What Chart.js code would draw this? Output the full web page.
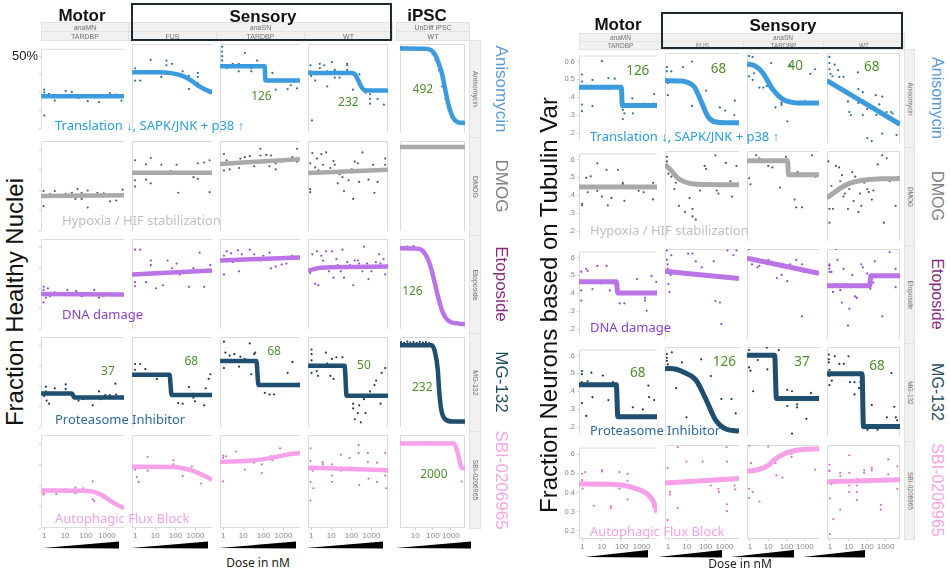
<!DOCTYPE html>
<html>
<head>
<meta charset="utf-8">
<script src="https://cdn.jsdelivr.net/npm/chart.js@4.4.1/dist/chart.umd.min.js"></script>
<style>
  body { margin: 0; width: 950px; height: 573px; background: #fff; position: relative; overflow: hidden;
         font-family: 'Liberation Sans', Arial, sans-serif; }
  canvas { position: absolute; }
  .t { position: absolute; white-space: nowrap; line-height: 1; }
  .strip { position: absolute; background: #f1f1f1; border: 1px solid #e2e2e2; box-sizing: border-box;
           color: #707070; font-size: 7px; display: flex; align-items: center; justify-content: center; }
  .side { position: absolute; background: #f1f1f1; border: 1px solid #e2e2e2; box-sizing: border-box; }
  .side span { position: absolute; left: 50%; top: 50%; transform: translate(-50%, -50%) rotate(90deg);
               color: #707070; font-size: 7px; white-space: nowrap; }
  .box { position: absolute; border: 2px solid #1c2b33; box-sizing: border-box; }
  .mech { position: absolute; white-space: nowrap; font-family: 'Noto Sans', sans-serif; font-size: 13px;
          transform: translateY(-50%); }
</style>
</head>
<body>
<script>
// ---- data ----
const drugs = ['Anisomycin', 'DMOG', 'Etoposide', 'MG-132', 'SBI-0206965'];
const mechanisms = ['Translation \u2193, SAPK/JNK + p38 \u2191', 'Hypoxia / HIF stabilization', 'DNA damage',
                    'Proteasome Inhibitor', 'Autophagic Flux Block'];
const leftLines = ['anaMN', 'anaSN', 'UnDiff iPSC'];
const leftGenotypes = ['TARDBP', 'FUS', 'TARDBP', 'WT', 'WT'];
const rightLines = ['anaMN', 'anaSN'];
const rightGenotypes = ['TARDBP', 'FUS', 'TARDBP', 'WT'];
const xTicks = [1, 10, 100, 1000];
const leftYTicks = [0.1, 0.2, 0.3, 0.4, 0.5];
const rightYTicks = [0.2, 0.3, 0.4, 0.5, 0.6];
const rightYLabels = [
  ['.2', '.3', '.4', '0.5', '0.6'],
  ['.2', '.3', '.4', '.5', '.6'],
  ['.2', '.3', '.4', '.5', '.6'],
  ['.2', '.3', '.4', '.5', '.6'],
  ['0.2', '0.3', '0.4', '0.5', '.6']
];

// left grid: fraction healthy nuclei, [dose nM, fraction]; columns: MN TARDBP, SN FUS, SN TARDBP, SN WT, iPSC WT
const leftFitAniso = [
  [[0.71, .277], [6600, .277]],
  [[0.71, .40], [15, .40], [60, .396], [230, .382], [600, .36], [1300, .336], [3000, .315], [6600, .30]],
  [[0.71, .43], [117, .43], [125, .36], [6600, .36]],
  [[0.71, .397], [100, .397], [150, .39], [220, .36], [330, .325], [510, .31], [6600, .31]],
  [[1.4, .518], [32, .517], [79, .51], [126, .49], [200, .45], [316, .395], [500, .31], [794, .23], [1260, .18], [2000, .158], [3160, .151], [6300, .15]]
];
const leftDotsAniso = [
  [[1, .314], [1, .299], [1.7, .291], [3.2, .253], [10.7, .306], [15, .283], [21, .301], [44, .268], [100, .276], [120, .25], [250, .271], [420, .245], [1400, .295], [2800, .286], [5000, .283], [5000, .253], [1, .17]],
  [[1, .42], [1, .359], [1.8, .359], [5.9, .462], [20, .397], [20, .377], [36, .458], [36, .435], [69, .442], [230, .405], [470, .382], [470, .317], [1300, .397], [1300, .377], [1300, .347], [2700, .314], [6300, .299], [6300, .31]],
  [[.9, .526], [.9, .503], [.9, .48], [.9, .458], [1.5, .435], [1.5, .42], [3, .442], [3, .427], [6, .442], [6, .405], [12, .495], [12, .427], [25, .42], [25, .405], [49, .458], [100, .435], [280, .397], [410, .314], [1600, .317], [2300, .336], [4700, .321], [4700, .359]],
  [[.93, .435], [.93, .405], [1, .382], [1.6, .359], [2.7, .442], [2.7, .42], [2.7, .397], [4.5, .435], [6.3, .405], [6.3, .33], [10.7, .45], [15, .412], [15, .374], [26, .397], [26, .374], [62, .442], [62, .435], [62, .412], [120, .397], [120, .314], [250, .39], [500, .299], [850, .268], [850, .245], [850, .291], [2000, .268], [2000, .306], [4100, .24], [1.1, .162]],
  [[1.6, .525], [2.2, .52], [3.3, .525], [5, .52], [7.6, .518], [11, .52], [17, .52], [26, .515], [40, .515], [60, .51], [95, .49], [140, .46], [220, .41], [330, .33], [500, .27], [760, .21], [1100, .18], [1700, .16], [2600, .15], [4000, .148], [5200, .15]]
];
const leftFitDmog = [
  [[0.71, .271], [6600, .275]],
  [[0.71, .385], [6600, .385]],
  [[0.71, .428], [6600, .451]],
  [[0.71, .383], [6600, .40]],
  [[1.4, .511], [6300, .511]]
];
const leftDotsDmog = [
  [[.93, .295], [.93, .222], [1.2, .272], [1.9, .28], [3.2, .295], [6.3, .272], [10.7, .28], [21, .287], [31, .257], [39, .305], [62, .257], [62, .287], [120, .215], [120, .298], [210, .275], [350, .287], [700, .284], [1400, .245], [2800, .249], [5700, .302]],
  [[1, .446], [1, .348], [1, .317], [1.8, .385], [3.5, .426], [3.5, .351], [6, .457], [6, .333], [20, .424], [29, .385], [58, .393], [115, .424], [138, .287], [470, .381], [790, .363], [1300, .431], [1300, .355], [2700, .435], [5000, .29], [5000, .446]],
  [[1.1, .476], [1.1, .396], [1.5, .446], [2.1, .401], [3, .426], [6.2, .408], [7.2, .454], [12, .461], [21, .466], [35, .416], [71, .502], [71, .469], [141, .472], [200, .416], [240, .469], [410, .401], [410, .431], [810, .439], [1600, .451], [2750, .461], [4700, .502], [4700, .439]],
  [[.9, .431], [.9, .305], [.9, .29], [1.15, .481], [1.6, .411], [1.95, .454], [2.3, .396], [3.2, .476], [3.9, .424], [5.5, .484], [6.5, .393], [9, .408], [13, .442], [15, .424], [21, .333], [26, .378], [36, .363], [43, .295], [62, .393], [72, .348], [105, .401], [123, .257], [148, .439], [210, .431], [245, .34], [355, .484], [500, .393], [710, .351], [1200, .424], [1400, .287], [2000, .34], [2800, .393], [4800, .454], [4800, .424]],
  [[1.6, .513], [2.4, .509], [3.6, .514], [5.3, .51], [8, .512], [12, .508], [18, .514], [27, .511], [40, .516], [60, .509], [90, .513], [135, .51], [200, .512], [300, .509], [450, .513], [680, .51], [1000, .512], [1500, .509], [2300, .513], [3500, .51], [5200, .512]]
];
const leftFitEtop = [
  [[0.71, .271], [6600, .268]],
  [[0.71, .367], [6600, .386]],
  [[0.71, .435], [6600, .449]],
  [[0.71, .385], [1.5, .394], [3, .399], [10, .402], [6600, .405]],
  [[1.4, .495], [10, .494], [22, .488], [59, .43], [105, .354], [186, .263], [331, .188], [708, .142], [3300, .126], [6300, .124]]
];
const leftDotsEtop = [
  [[.93, .306], [.93, .291], [.93, .23], [1.2, .253], [1.5, .299], [1.9, .26], [3.2, .279], [6.3, .268], [13, .291], [21, .276], [34, .285], [62, .26], [120, .276], [250, .291], [420, .253], [700, .26], [1400, .276], [2800, .268]],
  [[1, .488], [1, .329], [1, .309], [1.8, .488], [3.5, .329], [6, .435], [6, .412], [11, .299], [24, .314], [41, .435], [69, .397], [115, .42], [163, .367], [470, .306], [790, .397], [1600, .473], [2700, .306], [5400, .412]],
  [[1.1, .458], [1.1, .367], [1.5, .48], [2.5, .47], [3, .427], [5.5, .485], [6.2, .382], [8.5, .465], [21, .488], [35, .465], [71, .435], [100, .458], [200, .473], [240, .397], [410, .405], [810, .415], [1400, .42], [2750, .458], [4700, .45]],
  [[.9, .39], [.9, .374], [1.15, .465], [1.6, .321], [1.95, .48], [2.3, .314], [3.2, .458], [3.9, .435], [5.5, .48], [7.6, .382], [10.7, .48], [13, .351], [18, .442], [21, .412], [30, .382], [36, .488], [43, .351], [62, .427], [88, .412], [123, .314], [148, .435], [210, .435], [245, .42], [355, .382], [420, .503], [600, .42], [710, .344], [1000, .382], [1650, .427], [2400, .465], [2800, .42], [4000, .442], [4800, .367]],
  [[1.6, .497], [2.4, .5], [3.6, .503], [5.3, .494], [8, .505], [12, .49], [18, .485], [27, .47], [40, .455], [60, .42], [90, .38], [135, .33], [200, .26], [300, .2], [450, .16], [680, .145], [1000, .13], [1500, .125], [2300, .128], [3500, .122], [5200, .124]]
];
const leftFitMg = [
  [[0.71, .264], [21, .264], [28, .244], [6600, .244]],
  [[0.71, .356], [51, .356], [65, .256], [6600, .256]],
  [[0.71, .423], [45, .423], [57, .305], [6600, .305]],
  [[0.71, .40], [46, .40], [58, .253], [6600, .253]],
  [[1.4, .5], [85, .5], [126, .47], [186, .38], [224, .274], [295, .183], [490, .138], [1260, .127], [6300, .127]]
];
const leftDotsMg = [
  [[1.2, .297], [1.2, .274], [1, .251], [1.3, .229], [1.7, .214], [1.9, .267], [3.2, .289], [5.4, .259], [10.7, .308], [10.7, .286], [26, .241], [44, .229], [73, .236], [103, .241], [210, .206], [420, .274], [500, .236], [840, .256], [1400, .256], [2560, .312], [2800, .259]],
  [[1, .408], [1, .38], [1.8, .408], [3.2, .383], [6, .35], [12, .335], [58, .353], [138, .217], [230, .214], [470, .295], [790, .262], [790, .244], [940, .226], [1900, .262], [2700, .206], [3200, .289], [4500, .335], [5400, .358]],
  [[1.1, .517], [1.1, .388], [1.3, .464], [2.1, .449], [3.6, .456], [6.2, .395], [7.2, .444], [12, .433], [21, .509], [25, .358], [35, .456], [39, .464], [118, .267], [200, .259], [340, .259], [1600, .365], [2750, .418], [5500, .312]],
  [[1.05, .479], [1.05, .456], [1.05, .426], [1.05, .365], [1.3, .395], [1.9, .373], [2.2, .35], [5.4, .464], [6.3, .41], [9, .35], [10.7, .433], [13, .335], [18, .441], [21, .395], [36, .441], [123, .214], [123, .191], [148, .138], [210, .168], [245, .206], [295, .123], [420, .236], [500, .168], [840, .274], [1400, .305], [1700, .327], [2800, .214], [3200, .365], [4800, .388]],
  [[1.6, .515], [2.4, .512], [3.6, .517], [5.3, .513], [8, .515], [12, .512], [18, .516], [27, .513], [40, .515], [60, .51], [140, .45], [200, .33], [300, .17], [450, .135], [680, .128], [1000, .125], [1500, .124], [2300, .126], [3500, .122], [5200, .123]]
];
const leftFitSbi = [
  [[0.71, .277], [50, .276], [210, .272], [700, .25], [2000, .22], [5700, .197], [6600, .195]],
  [[0.71, .39], [80, .389], [300, .38], [680, .372], [2700, .347], [6600, .33]],
  [[0.71, .412], [35, .42], [280, .433], [1600, .448], [6600, .455]],
  [[0.71, .385], [6600, .373]],
  [[1.4, .5], [1500, .5], [2200, .47], [3000, .424], [4000, .386], [6300, .382]]
];
const leftDotsSbi = [
  [[.93, .28], [.93, .265], [.93, .258], [1.6, .28], [3.8, .261], [10.7, .285], [10.7, .273], [31, .291], [31, .265], [73, .288], [87, .28], [210, .321], [210, .235], [250, .227], [710, .258], [4800, .197]],
  [[1, .376], [1.2, .341], [1.5, .318], [4.2, .436], [4.2, .371], [12, .391], [81, .421], [81, .401], [230, .345], [660, .391], [790, .371], [1900, .31], [3800, .341], [5400, .326]],
  [[1, .442], [1, .432], [1, .321], [1.4, .439], [4.3, .462], [10, .412], [12, .376], [30, .421], [35, .409], [83, .401], [83, .36], [240, .439], [280, .421], [680, .477], [2300, .447]],
  [[.93, .477], [.93, .417], [.93, .318], [.93, .23], [1.2, .371], [1.3, .288], [1.9, .386], [3.8, .412], [3.8, .401], [10.7, .401], [10.7, .348], [10.7, .318], [30, .447], [30, .371], [80, .432], [87, .386], [230, .492], [230, .455], [245, .303], [660, .455], [660, .412], [710, .333], [1860, .409], [1860, .318], [4800, .455], [4800, .348], [5400, .288]],
  [[2, .505], [3.2, .5], [5, .505], [8, .5], [13, .505], [20, .5], [32, .505], [50, .5], [80, .505], [130, .5], [200, .505], [320, .5], [500, .505], [800, .5], [1300, .505], [2000, .49], [4000, .39], [4000, .32]]
];
const leftEc50 = [
  [null, null, '126', '232', '492'],
  [null, null, null, null, null],
  [null, null, null, null, '126'],
  ['37', '68', '68', '50', '232'],
  [null, null, null, null, '2000']
];
const leftEc50At = [
  [null, null, [80, .28], [71, .25], [27, .314]],
  [null, null, null, null, null],
  [null, null, null, null, [7, .283]],
  [[1120, .37], [620, .42], [340, .467], [420, .40], [25, .294]],
  [null, null, null, null, [112, .353]]
];

// right grid: fraction neurons based on tubulin var; columns: MN TARDBP, SN FUS, SN TARDBP, SN WT
const rightFitAniso = [
  [[0.69, .456], [95, .456], [106, .354], [6000, .354]],
  [[0.69, .488], [5, .486], [10, .48], [25, .455], [58, .378], [130, .30], [270, .272], [1000, .265], [6000, .265]],
  [[0.69, .576], [2, .565], [5, .53], [17, .443], [60, .39], [200, .373], [460, .37], [6000, .37]],
  [[0.69, .488], [6000, .257]]
];
const rightDotsAniso = [
  [[.97, .527], [.97, .488], [.97, .359], [.97, .322], [3.3, .497], [3.3, .351], [10, .602], [21, .508], [21, .446], [44, .504], [112, .33], [135, .31], [340, .394], [360, .31], [1260, .365], [4300, .418], [4300, .365], [112, .278]],
  [[.87, .56], [.87, .537], [.97, .475], [.97, .411], [1.5, .537], [6.2, .56], [19, .589], [19, .354], [107, .435], [224, .267], [575, .346], [1100, .33], [1740, .259], [3400, .306], [3600, .382]],
  [[.9, .618], [.9, .511], [1.4, .613], [1.4, .492], [1.7, .527], [3.3, .451], [5.4, .451], [8.4, .459], [8.4, .492], [14.5, .581], [25, .346], [53, .37], [53, .359], [110, .273], [160, .569], [1020, .378], [2000, .524], [3700, .548]],
  [[.93, .613], [.93, .581], [.93, .548], [1.05, .524], [1.35, .511], [1.8, .572], [2.75, .543], [3.2, .508], [5.4, .508], [5.4, .443], [9.3, .378], [11, .322], [13.5, .306], [32, .532], [34, .443], [34, .37], [59, .306], [59, .427], [102, .338], [102, .184], [178, .168], [295, .411], [316, .306], [457, .362], [660, .403], [660, .208], [1150, .322], [2000, .322], [2400, .314], [4300, .265], [3900, .2]]
];
const rightFitDmog = [
  [[0.69, .446], [6000, .446]],
  [[0.69, .563], [1.5, .53], [3, .495], [8, .47], [35, .458], [6000, .455]],
  [[0.69, .582], [114, .582], [128, .509], [6000, .509]],
  [[0.69, .385], [2, .42], [6, .45], [20, .47], [100, .482], [800, .487], [6000, .488]]
];
const rightDotsDmog = [
  [[.9, .449], [1, .352], [1, .344], [1.6, .498], [1.9, .417], [2.7, .506], [5.8, .579], [5.8, .425], [10, .393], [17, .543], [19.5, .344], [30, .385], [64, .543], [112, .47], [112, .462], [135, .369], [235, .449], [710, .425], [1260, .417], [3800, .47], [3800, .377]],
  [[.87, .603], [.87, .579], [1.05, .514], [1.5, .498], [2.2, .433], [2.6, .466], [3.8, .344], [8, .312], [14, .385], [20, .328], [20, .288], [30, .271], [51, .425], [89, .555], [107, .539], [330, .611], [390, .425], [480, .409], [1200, .571], [2100, .474], [2500, .393], [4400, .555]],
  [[.9, .579], [.9, .49], [1.07, .458], [2.2, .611], [3.3, .595], [10, .555], [17, .547], [44, .441], [93, .603], [110, .563], [280, .377], [340, .336], [410, .522], [710, .336], [2500, .611], [3700, .498]],
  [[.83, .579], [.93, .401], [.93, .328], [.93, .255], [1.2, .449], [1.45, .328], [2.1, .555], [2.5, .417], [3.1, .547], [3.6, .474], [4.4, .506], [5.4, .393], [6.4, .409], [9.3, .328], [11, .433], [16, .522], [19, .369], [23, .498], [34, .312], [41, .409], [49, .344], [70, .466], [102, .433], [125, .417], [180, .377], [218, .425], [380, .563], [660, .611], [800, .255], [1150, .595], [1660, .474], [3470, .344]]
];
const rightFitEtop = [
  [[0.69, .464], [53, .464], [63, .402], [6000, .402]],
  [[0.69, .516], [6000, .478]],
  [[0.69, .585], [6000, .506]],
  [[0.69, .44], [138, .44], [162, .492], [6000, .492]]
];
const rightDotsEtop = [
  [[.9, .521], [.9, .416], [.9, .359], [1.6, .537], [1.9, .526], [3.3, .424], [5.8, .553], [8.3, .456], [17, .553], [25, .416], [78, .343], [135, .343], [590, .48], [710, .407], [1480, .375], [1480, .359], [1800, .302], [3200, .497], [5500, .464]],
  [[.87, .626], [.87, .577], [.95, .553], [.95, .529], [1.05, .448], [1.2, .407], [1.35, .497], [1.5, .601], [11.8, .61], [20, .61], [30, .569], [62, .537], [270, .569], [330, .359], [575, .351], [690, .237], [1450, .626], [3000, .601], [4400, .626]],
  [[.9, .634], [1.3, .553], [2.6, .537], [3.3, .545], [10, .577], [25, .553], [30, .48], [53, .497], [110, .464], [160, .553], [340, .577], [710, .553], [850, .513], [700, .278]],
  [[.93, .553], [.93, .545], [.93, .529], [.93, .513], [1.2, .513], [1.45, .407], [2.1, .448], [2.1, .634], [2.5, .577], [3.6, .416], [4.4, .351], [5.4, .529], [8, .448], [9.3, .229], [11, .318], [16, .497], [23, .383], [28, .375], [49, .553], [59, .537], [102, .505], [150, .424], [218, .456], [260, .569], [660, .278], [1150, .497], [1660, .618], [3470, .529], [3470, .432]]
];
const rightFitMg = [
  [[0.69, .436], [53, .436], [63, .257], [6000, .257]],
  [[0.69, .521], [3, .515], [7, .50], [30, .46], [107, .355], [330, .25], [1200, .20], [6000, .189]],
  [[0.69, .59], [22.5, .59], [28, .362], [6000, .362]],
  [[0.69, .492], [54, .492], [64, .213], [6000, .213]]
];
const rightDotsMg = [
  [[.97, .513], [.97, .496], [.97, .451], [.97, .334], [1.6, .262], [1.9, .456], [2.9, .504], [3.3, .367], [11, .488], [21, .351], [36, .451], [360, .31], [1150, .299], [2200, .432], [2400, .367], [4300, .351]],
  [[.87, .597], [.87, .577], [.87, .561], [.97, .542], [1.6, .606], [2.7, .416], [5.5, .553], [9.6, .262], [58, .569], [190, .48], [690, .359], [2400, .359], [4000, .283]],
  [[.9, .618], [.9, .526], [1.07, .509], [1.5, .4], [2.7, .565], [8.4, .631], [9, .516], [38, .618], [110, .407], [200, .4], [110, .322], [380, .331], [380, .315], [200, .176], [1230, .254], [2200, .391]],
  [[.87, .594], [.87, .569], [.87, .553], [.93, .513], [.93, .48], [.93, .432], [1.25, .456], [1.8, .585], [3.2, .545], [5.6, .545], [10, .585], [12, .448], [21, .448], [21, .383], [37, .416], [44, .448], [53, .383], [105, .197], [180, .327], [370, .197], [1170, .262], [2060, .496], [2970, .318], [3550, .262], [4200, .246]]
];
const rightFitSbi = [
  [[0.69, .445], [20, .443], [135, .436], [1260, .404], [2570, .38], [4500, .34], [6000, .296]],
  [[0.69, .441], [6000, .464]],
  [[0.69, .501], [3, .51], [10, .53], [21, .558], [60, .585], [200, .603], [1000, .612], [6000, .615]],
  [[0.69, .448], [6000, .458]]
];
const rightDotsSbi = [
  [[1, .497], [1, .464], [1.05, .42], [1.4, .506], [3.9, .331], [10, .517], [10, .509], [28, .318], [28, .328], [77, .506], [77, .42], [195, .497], [195, .461], [195, .364], [555, .425], [3800, .328]],
  [[.94, .517], [.94, .254], [1.25, .396], [1.25, .383], [3.3, .623], [3.3, .315], [9.6, .55], [70, .55], [70, .448], [190, .429], [480, .412], [510, .396], [1300, .623], [1380, .55], [1380, .334], [1380, .299], [3500, .429], [3800, .409]],
  [[.9, .631], [.9, .412], [.9, .367], [1.16, .542], [1.4, .396], [3.3, .348], [10, .626], [25, .542], [28, .48], [60, .469], [190, .59], [190, .574], [3700, .509]],
  [[.93, .534], [.93, .506], [.93, .501], [.99, .364], [.99, .183], [1.2, .436], [1.5, .259], [3.6, .493], [3.6, .477], [3.6, .307], [11, .582], [11, .493], [11, .429], [11, .396], [28, .461], [28, .429], [28, .396], [28, .356], [70, .506], [70, .493], [86, .445], [180, .517], [180, .506], [550, .331], [550, .307], [1400, .561], [1400, .485], [4300, .526], [4300, .453], [4300, .412]]
];
const rightEc50 = [
  ['126', '68', '40', '68'],
  [null, null, null, null],
  [null, null, null, null],
  ['68', '126', '37', '68'],
  [null, null, null, null]
];
const rightEc50At = [
  [[640, .545], [490, .548], [300, .565], [180, .561]],
  [null, null, null, null],
  [null, null, null, null],
  [[640, .501], [1000, .553], [700, .553], [340, .533]],
  [null, null, null, null]
];

// ---- styling / layout ----
const lineColors = ['#3b9bdc', '#a9a9a9', '#bb74e6', '#1f4e6e', '#f7a1ea'];
const dotColors = ['#2d6c9c', '#5a5a5a', '#9448c8', '#1d3b52', '#d470cc'];
const mechColors = ['#2a9fda', '#c0c0c0', '#8e3fc8', '#2d6aa0', '#f4a2e8'];
const drugColors = ['#5b9bd5', '#7f7f7f', '#8b2a83', '#1f4e5f', '#f4a6e6'];

const LEFT_COLS = [[41, 128], [128, 216], [216, 304], [304, 392], [396, 469]];
const LEFT_ROWS = [[40, 137], [137, 235], [235, 333], [333, 431], [431, 528]];
const RIGHT_COLS = [[579, 661], [661, 743], [743, 823], [823, 904]];
const RIGHT_ROWS = [[49, 147], [147, 245], [245, 343], [343, 441], [441, 539]];
const LEFT_X = [0.71, 6600], IPSC_X = [1.4, 6300], RIGHT_X = [0.69, 6000];
const LEFT_Y = [0.1, 0.54], RIGHT_Y = [0.158, 0.634];

const framePlugin = {
  id: 'frame',
  beforeDatasetsDraw(chart, args, o) {
    const a = chart.chartArea, ctx = chart.ctx;
    ctx.save();
    ctx.strokeStyle = '#dcdcdc';
    ctx.lineWidth = 1;
    ctx.beginPath();
    ctx.moveTo(a.left + 0.5, a.bottom); ctx.lineTo(a.left + 0.5, a.top + 0.5); ctx.lineTo(a.right, a.top + 0.5);
    if (o.right) { ctx.moveTo(a.right - 0.5, a.top); ctx.lineTo(a.right - 0.5, a.bottom); }
    if (o.bottom) { ctx.moveTo(a.left, a.bottom - 0.5); ctx.lineTo(a.right, a.bottom - 0.5); }
    ctx.stroke();
    ctx.restore();
  }
};
const ec50Plugin = {
  id: 'ec50',
  afterDatasetsDraw(chart, args, o) {
    if (!o.text) return;
    const ctx = chart.ctx;
    ctx.save();
    ctx.font = o.size + 'px "Noto Sans", sans-serif';
    ctx.fillStyle = '#4f8f2f';
    ctx.textAlign = 'center';
    ctx.textBaseline = 'middle';
    ctx.fillText(o.text, chart.scales.x.getPixelForValue(o.at[0]), chart.scales.y.getPixelForValue(o.at[1]));
    ctx.restore();
  }
};

function panel(p) {
  const L = p.yAxis ? p.yAxis.width : 0;
  const B = p.xAxis ? p.xAxis.height : 0;
  const w = p.x1 - p.x0 + L, h = p.y1 - p.y0 + B;
  const c = document.createElement('canvas');
  c.width = w; c.height = h;
  c.style.left = (p.x0 - L) + 'px'; c.style.top = p.y0 + 'px';
  c.style.width = w + 'px'; c.style.height = h + 'px';
  document.body.appendChild(c);
  const xt = xTicks.filter(v => v >= p.xr[0] && v <= p.xr[1]);
  new Chart(c, {
    type: 'scatter',
    data: {
      datasets: [
        { data: p.fit.map(([x, y]) => ({ x, y })), showLine: true, borderColor: p.color, borderWidth: p.lw,
          pointRadius: 0, cubicInterpolationMode: 'monotone', clip: 0 },
        { data: p.dots.map(([x, y]) => ({ x, y })), pointRadius: 1.1, backgroundColor: p.dot,
          borderWidth: 0, clip: 0 }
      ]
    },
    options: {
      responsive: false, animation: false, devicePixelRatio: 1, events: [],
      layout: { padding: 0 },
      plugins: {
        legend: { display: false }, tooltip: { enabled: false },
        frame: { right: p.frameRight, bottom: p.frameBottom },
        ec50: { text: p.ec, at: p.ecAt, size: p.ecSize }
      },
      scales: {
        x: {
          type: 'logarithmic', min: p.xr[0], max: p.xr[1], display: !!p.xAxis,
          afterBuildTicks: s => { s.ticks = xt.map(v => ({ value: v })); },
          afterFit: s => { s.height = B; },
          border: { display: false },
          grid: { drawOnChartArea: false, drawTicks: true, tickLength: 2, color: '#cfcfcf' },
          ticks: { autoSkip: false, maxRotation: 0, padding: 1, color: '#8a8a8a',
                   font: { size: 8, family: 'Liberation Sans' }, callback: v => String(v) }
        },
        y: {
          min: p.yr[0], max: p.yr[1], display: !!p.yAxis,
          afterBuildTicks: s => { s.ticks = (p.yAxis ? p.yAxis.ticks : []).map(v => ({ value: v })); },
          afterFit: s => { s.width = L; },
          border: { display: false },
          grid: { drawOnChartArea: false, drawTicks: true, tickLength: 2, color: '#d4d4d4' },
          ticks: p.yAxis ? { padding: p.yAxis.padding, color: p.yAxis.color,
                   font: { size: p.yAxis.size, family: 'Liberation Sans' },
                   callback: (v, i) => p.yAxis.labels[i] } : {}
        }
      }
    },
    plugins: [framePlugin, ec50Plugin]
  });
}

const leftFits = [leftFitAniso, leftFitDmog, leftFitEtop, leftFitMg, leftFitSbi];
const leftDots = [leftDotsAniso, leftDotsDmog, leftDotsEtop, leftDotsMg, leftDotsSbi];
const rightFits = [rightFitAniso, rightFitDmog, rightFitEtop, rightFitMg, rightFitSbi];
const rightDots = [rightDotsAniso, rightDotsDmog, rightDotsEtop, rightDotsMg, rightDotsSbi];

drugs.forEach((d, r) => {
  LEFT_COLS.forEach((col, c) => {
    panel({
      x0: col[0], x1: col[1], y0: LEFT_ROWS[r][0], y1: LEFT_ROWS[r][1],
      xr: c === 4 ? IPSC_X : LEFT_X, yr: LEFT_Y, lw: 4.5,
      fit: leftFits[r][c], dots: leftDots[r][c], color: lineColors[r], dot: dotColors[r],
      frameRight: c >= 3, frameBottom: r === 4,
      ec: leftEc50[r][c], ecAt: leftEc50At[r][c], ecSize: 12,
      yAxis: c === 0 ? (r === 0
        ? { width: 40, ticks: leftYTicks, labels: leftYTicks.map(v => v === 0.5 ? '50%' : ''), size: 13, color: '#222', padding: 1 }
        : { width: 4, ticks: leftYTicks, labels: leftYTicks.map(() => ''), size: 1, color: '#222', padding: 0 }) : null,
      xAxis: r === 4 ? { height: 12 } : null
    });
  });
  RIGHT_COLS.forEach((col, c) => {
    panel({
      x0: col[0], x1: col[1], y0: RIGHT_ROWS[r][0], y1: RIGHT_ROWS[r][1],
      xr: RIGHT_X, yr: RIGHT_Y, lw: 5,
      fit: rightFits[r][c], dots: rightDots[r][c], color: lineColors[r], dot: dotColors[r],
      frameRight: c === 3, frameBottom: r === 4,
      ec: rightEc50[r][c], ecAt: rightEc50At[r][c], ecSize: 13.5,
      yAxis: c === 0 ? { width: 22, ticks: rightYTicks, labels: rightYLabels[r], size: 7.5, color: '#8a8a8a', padding: 2 } : null,
      xAxis: r === 4 ? { height: 14 } : null
    });
  });
});

// ---- text, strips and decorations ----
function div(cls, html, css) {
  const e = document.createElement('div');
  e.className = cls; e.innerHTML = html;
  Object.assign(e.style, css);
  document.body.appendChild(e);
  return e;
}
function strip(x0, x1, y0, y1, text, fs) {
  div('strip', text, { left: x0 + 'px', top: y0 + 'px', width: (x1 - x0 + 1) + 'px', height: (y1 - y0 + 1) + 'px', fontSize: fs + 'px' });
}
// left strips
strip(41, 128, 22, 31, leftLines[0], 7);
strip(128, 392, 22, 31, leftLines[1], 7);
strip(396, 469, 22, 31, leftLines[2], 7);
LEFT_COLS.forEach((col, c) => strip(col[0], col[1], 31, 40, leftGenotypes[c], 7));
// right strips
strip(579, 661, 33, 40.5, rightLines[0], 6.5);
strip(661, 904, 33, 40.5, rightLines[1], 6.5);
RIGHT_COLS.forEach((col, c) => strip(col[0], col[1], 40.5, 49, rightGenotypes[c], 6.5));

drugs.forEach((d, r) => {
  const lr = LEFT_ROWS[r], rr = RIGHT_ROWS[r];
  div('side', '<span>' + d + '</span>', { left: '469px', top: lr[0] + 'px', width: '12px', height: (lr[1] - lr[0] + 1) + 'px' });
  div('side', '<span style="font-size:6.5px">' + d + '</span>', { left: '904px', top: rr[0] + 'px', width: '11px', height: (rr[1] - rr[0] + 1) + 'px' });
  div('t', d, { left: '501px', top: ((lr[0] + lr[1]) / 2) + 'px', transform: 'translate(-50%,-50%) rotate(90deg)', fontSize: '17px', color: drugColors[r] });
  div('t', d, { left: '937px', top: ((rr[0] + rr[1]) / 2) + 'px', transform: 'translate(-50%,-50%) rotate(90deg)', fontSize: '16px', color: drugColors[r] });
});

const leftMechY = [125, 220, 314, 419, 518];
const rightMechY = [136, 230, 327, 430, 531];
mechanisms.forEach((m, r) => {
  div('mech', m, { left: (r === 1 || r === 2 ? 62 : 55) + 'px', top: leftMechY[r] + 'px', color: mechColors[r] });
  div('mech', m, { left: '590px', top: rightMechY[r] + 'px', color: mechColors[r] });
});

// headers
div('box', '', { left: '131px', top: '3px', width: '261px', height: '38px' });
div('box', '', { left: '661px', top: '12px', width: '242px', height: '37px' });
const hdr = { fontWeight: 'bold', fontSize: '17px', color: '#111', transform: 'translate(-50%,-50%)' };
div('t', 'Motor', Object.assign({ left: '82px', top: '15px' }, hdr));
div('t', 'Sensory', Object.assign({ left: '263px', top: '16px' }, hdr));
div('t', 'iPSC', Object.assign({ left: '427px', top: '15px' }, hdr));
div('t', 'Motor', Object.assign({ left: '618px', top: '24px' }, hdr));
div('t', 'Sensory', Object.assign({ left: '783px', top: '25px' }, hdr));

// axis titles
div('t', 'Fraction Healthy Nuclei', { left: '15px', top: '302px', fontSize: '24px', color: '#111', transform: 'translate(-50%,-50%) rotate(-90deg)' });
div('t', 'Fraction Neurons based on Tubulin Var', { left: '549px', top: '305px', fontSize: '24px', color: '#111', transform: 'translate(-50%,-50%) rotate(-90deg)' });
div('t', 'Dose in nM', { left: '258px', top: '563px', fontSize: '12px', color: '#222', fontFamily: 'Noto Sans', transform: 'translate(-50%,-50%)' });
div('t', 'Dose in nM', { left: '740px', top: '564px', fontSize: '12px', color: '#222', fontFamily: 'Noto Sans', transform: 'translate(-50%,-50%)' });

// dose wedges
const wedgesLeft = [[43, 119], [131, 208], [219, 296], [306, 383], [396, 471]];
const wedgesRight = [[585, 648], [658, 722], [731, 794], [803, 865]];
let svg = '<svg width="950" height="573" style="position:absolute;left:0;top:0;pointer-events:none">';
wedgesLeft.forEach(([a, b]) => { svg += `<polygon points="${a},548 ${b},541.5 ${b},548.5" fill="#000"/>`; });
wedgesRight.forEach(([a, b]) => { svg += `<polygon points="${a},557 ${b},550 ${b},557.5" fill="#000"/>`; });
svg += '</svg>';
document.body.insertAdjacentHTML('beforeend', svg);
</script>
</body>
</html>
